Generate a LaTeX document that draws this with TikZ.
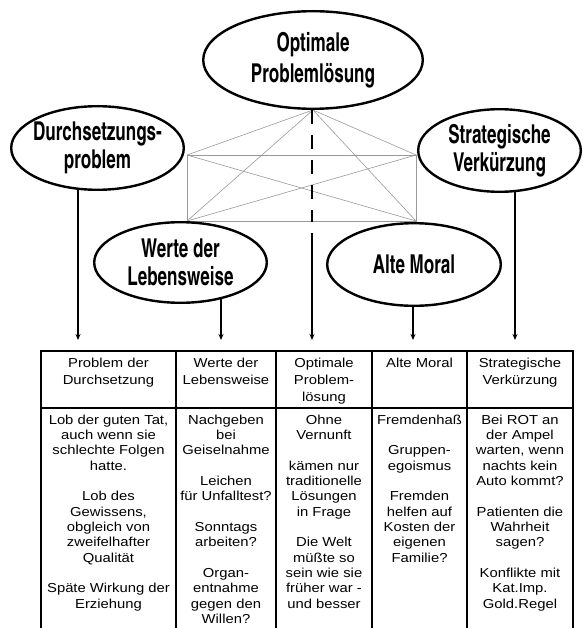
\documentclass[tikz,border=0pt]{standalone}
\usepackage{fontspec}
\setmainfont{Liberation Sans}[FakeStretch=1.14]
\newfontfamily\ellfont{TeX Gyre Heros Cn}[FakeStretch=0.8]
\usetikzlibrary{shapes.geometric,arrows.meta,backgrounds}

\tikzset{
  ell/.style={ellipse, draw, fill=white, line width=2.4pt, inner xsep=-25pt, inner ysep=-2pt,
    align=center, font=\ellfont\bfseries\fontsize{26}{28}\selectfont},
  web/.style={draw=black!40, line width=0.6pt},
  arr/.style={line width=1.5pt, -{Stealth[length=6pt,width=5pt]}},
  dashline/.style={line width=1.5pt, dash pattern=on 14pt off 11pt},
  tab/.style={line width=1.6pt},
  head/.style={anchor=north, inner sep=0pt, align=center, font=\fontsize{13}{17}\selectfont},
  body/.style={anchor=north, inner sep=0pt, align=center, font=\fontsize{13}{15.33}\selectfont},
}

\begin{document}
\begin{tikzpicture}[x=1pt,y=-1pt]
\useasboundingbox (0,0) rectangle (582,628);

% ellipses
\node[ell, minimum width=219.6pt, minimum height=97.6pt, font=\ellfont\bfseries\fontsize{26}{31}\selectfont] (opt) at (313,60) {Optimale\\Problemlösung};
\node[ell, minimum width=172.6pt, minimum height=83.6pt] (durch) at (97.5,148) {Durchsetzungs-\\problem};
\node[ell, minimum width=162.6pt, minimum height=82.6pt] (strat) at (499.5,150.5) {Strategische\\Verkürzung};
\node[ell, minimum width=172.6pt, minimum height=80.6pt] (werte) at (180.5,262.5) {Werte der\\Lebensweise};
\node[ell, minimum width=173.6pt, minimum height=82.6pt] (alte) at (414,264.5) {Alte Moral};

% junction points of the web
\coordinate (pD) at (187,155);
\coordinate (pS) at (416,155);
\coordinate (pW) at (187,221);
\coordinate (pA) at (416,221);
% arrow tips
\coordinate (t1) at (78,340);
\coordinate (t2) at (221,340);
\coordinate (t3) at (312,340);
\coordinate (t4) at (413,340);
\coordinate (t5) at (515,340);
\coordinate (dEnd) at (312,222);
\coordinate (sStart) at (312,233);

\begin{scope}[on background layer]
  \draw[web] (opt.south) -- (pD);
  \draw[web] (opt.south) -- (pS);
  \draw[web] (opt.south) -- (pW);
  \draw[web] (opt.south) -- (pA);
  \draw[web] (pD) -- (pS) -- (pA) -- (pW) -- cycle;
  \draw[web] (pD) -- (pA);
  \draw[web] (pW) -- (pS);
  \draw[arr] (durch.center -| t1) -- (t1);
  \draw[arr] (werte.center -| t2) -- (t2);
  \draw[arr] (alte.center -| t4) -- (t4);
  \draw[arr] (strat.center -| t5) -- (t5);
\end{scope}

\draw[dashline] (opt.south -| dEnd) -- (dEnd);
\draw[arr] (sStart) -- (t3);

% table
\draw[tab] (41,628) -- (41,351) -- (573,351) -- (573,628);
\draw[tab] (41,408) -- (573,408);
\foreach \xx in {176,276,372,467} \draw[tab] (\xx,351) -- (\xx,628);

% header
\node[head] (h1) at (108.5,357.5) {Problem der\\Durchsetzung};
\node[head] (h2) at (226,357.5) {Werte der\\Lebensweise};
\node[head] (h3) at (324,357.5) {Optimale\\Problem-\\lösung};
\node[head] (h4) at (419.5,357.5) {Alte Moral};
\node[head] (h5) at (520,357.5) {Strategische\\Verkürzung};

% body
\node[body] (b1) at (108.5,414.5) {Lob der guten Tat,\\auch wenn sie\\schlechte Folgen\\hatte.\\~\\Lob des\\Gewissens,\\obgleich von\\zweifelhafter\\Qualität\\~\\Späte Wirkung der\\Erziehung};
\node[body] (b2) at (226,414.5) {Nachgeben\\bei\\Geiselnahme\\~\\Leichen\\für Unfalltest?\\~\\Sonntags\\arbeiten?\\~\\Organ-\\entnahme\\gegen den\\Willen?};
\node[body] (b3) at (324,414.5) {Ohne\\Vernunft\\~\\kämen nur\\traditionelle\\Lösungen\\in Frage\\~\\Die Welt\\müßte so\\sein wie sie\\früher war -\\und besser};
\node[body] (b4) at (419.5,414.5) {Fremdenhaß\\~\\Gruppen-\\egoismus\\~\\Fremden\\helfen auf\\Kosten der\\eigenen\\Familie?};
\node[body] (b5) at (520,414.5) {Bei ROT an\\der Ampel\\warten, wenn\\nachts kein\\Auto kommt?\\~\\Patienten die\\Wahrheit\\sagen?\\~\\Konflikte mit\\Kat.Imp.\\Gold.Regel};
\end{tikzpicture}
\end{document}
